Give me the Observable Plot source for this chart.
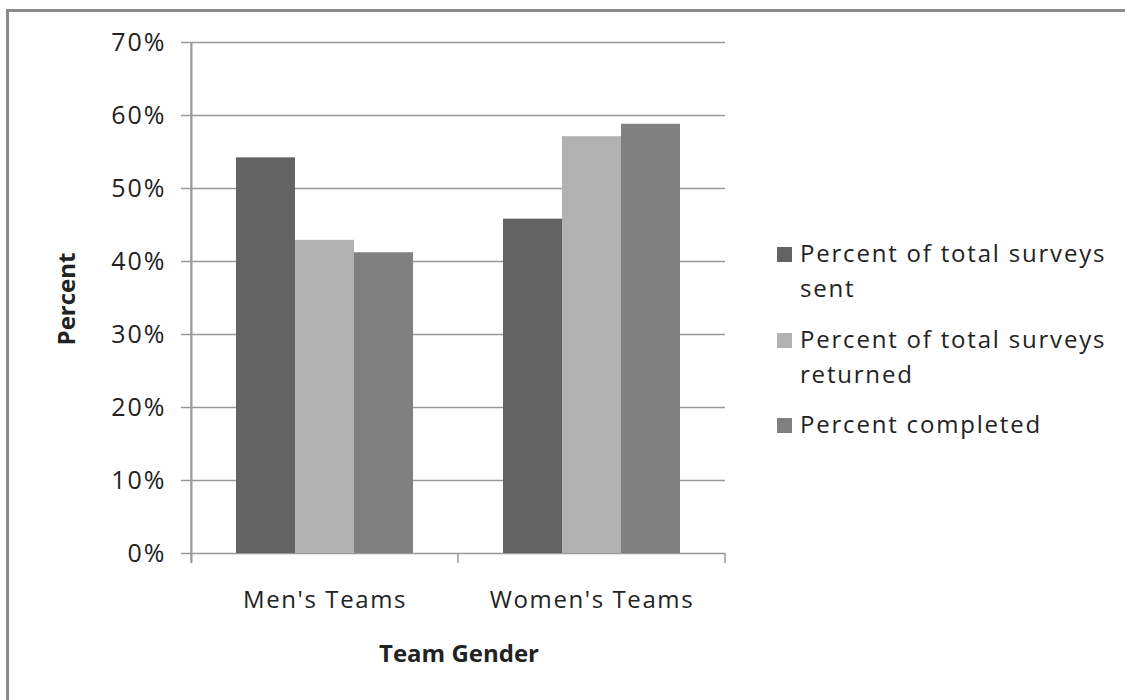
<!DOCTYPE html>
<html>
<head>
<meta charset="utf-8">
<script src="https://cdn.jsdelivr.net/npm/d3@7"></script>
<script src="https://cdn.jsdelivr.net/npm/@observablehq/plot@0.6"></script>
<style>
html, body { margin: 0; padding: 0; background: #fff; overflow: hidden; }
#wrap { position: relative; width: 1125px; height: 700px; font-family: "Open Sans", sans-serif; color: #222; }
#frame { position: absolute; left: 6px; top: 9px; width: 1400px; height: 1000px; border: 3px solid #8a8a8a; box-sizing: border-box; }
#chart { position: absolute; left: 0; top: 0; }
#chart svg text { letter-spacing: 1.6px; }
#chart svg g[aria-label="y-axis tick label"] text { letter-spacing: 2px; font-size: 25px; }
.ytitle { position: absolute; left: 66px; top: 299px; transform: translate(-50%, -50%) rotate(-90deg); font-weight: bold; font-size: 24px; line-height: 24px; white-space: nowrap; }
.xtitle { position: absolute; left: 459px; top: 641px; transform: translateX(-50%); font-weight: bold; font-size: 24px; line-height: 24px; white-space: nowrap; }
.leg { position: absolute; left: 777px; }
.leg .sw { position: absolute; left: 0; width: 15px; height: 15px; }
.leg .tx { position: absolute; left: 23px; width: 340px; font-size: 24px; line-height: 35px; letter-spacing: 1.8px; white-space: nowrap; }
</style>
</head>
<body>
<div id="wrap">
  <div id="frame"></div>
  <div id="chart"></div>
  <div class="ytitle" id="ytitle"></div>
  <div class="xtitle" id="xtitle"></div>
  <div id="legend"></div>
</div>
<script>
// ---- data ----
const teams = ["Men's Teams", "Women's Teams"];
const seriesNames = ["Percent of total surveys sent", "Percent of total surveys returned", "Percent completed"];
const legendLines = [["Percent of total surveys", "sent"], ["Percent of total surveys", "returned"], ["Percent completed"]];
const menValues = [0.542, 0.429, 0.412];
const womenValues = [0.458, 0.571, 0.588];
const yTicks = [0, 0.1, 0.2, 0.3, 0.4, 0.5, 0.6, 0.7];
const seriesColors = ["#636363", "#b2b2b2", "#808080"];
const xTitle = "Team Gender";
const yTitle = "Percent";

const rows = [];
teams.forEach((t, ti) => {
  const vals = ti === 0 ? menValues : womenValues;
  seriesNames.forEach((s, si) => rows.push({team: t, series: s, value: vals[si]}));
});

const W = 1125, H = 700, mL = 191, mR = 400, mT = 42, mB = 147;
const facetW = (W - mL - mR) / teams.length;
const lineColor = "#999";
const lw = 1.5;

const plot = Plot.plot({
  width: W, height: H,
  marginLeft: mL, marginRight: mR, marginTop: mT, marginBottom: mB,
  style: {fontFamily: '"Open Sans", sans-serif', fontSize: "24px", color: "#222", background: "transparent", overflow: "visible"},
  fx: {domain: teams, padding: 0, label: null},
  x: {domain: seriesNames, paddingInner: 0, paddingOuter: 0.744, axis: null},
  y: {domain: [0, 0.7], label: null},
  color: {domain: seriesNames, range: seriesColors},
  marks: [
    Plot.gridY(yTicks, {stroke: lineColor, strokeOpacity: 1, strokeWidth: lw}),
    Plot.axisY(yTicks, {tickSize: 10, tickPadding: 15, tickFormat: d3.format(".0%"), stroke: lineColor, strokeWidth: lw, strokeOpacity: 1, label: null}),
    // vertical value axis line at the left edge of the first category
    Plot.rect([teams[0]], {fx: d => d, y1: 0.7, y2: 0, insetRight: facetW - lw, insetLeft: -lw / 2, insetBottom: -10, fill: lineColor}),
    // category boundary ticks at the right edge of each category
    Plot.rect(teams, {fx: d => d, y1: 0, y2: 0, insetLeft: facetW - lw / 2, insetRight: -lw / 2, insetBottom: -10, fill: lineColor}),
    Plot.barY(rows, {fx: "team", x: "series", y: "value", fill: "series"}),
    Plot.axisFx({anchor: "bottom", tickSize: 0, tickPadding: 37, label: null})
  ]
});
document.getElementById("chart").appendChild(plot);

document.getElementById("xtitle").textContent = xTitle;
document.getElementById("ytitle").textContent = yTitle;

// legend
const legendTops = [235, 321, 406];
const legend = document.getElementById("legend");
seriesNames.forEach((s, i) => {
  const item = document.createElement("div");
  item.className = "leg";
  item.style.top = legendTops[i] + "px";
  const sw = document.createElement("div");
  sw.className = "sw";
  sw.style.background = seriesColors[i];
  sw.style.top = "12px";
  const tx = document.createElement("div");
  tx.className = "tx";
  tx.innerHTML = legendLines[i].join("<br>");
  item.appendChild(sw);
  item.appendChild(tx);
  legend.appendChild(item);
});
</script>
</body>
</html>
